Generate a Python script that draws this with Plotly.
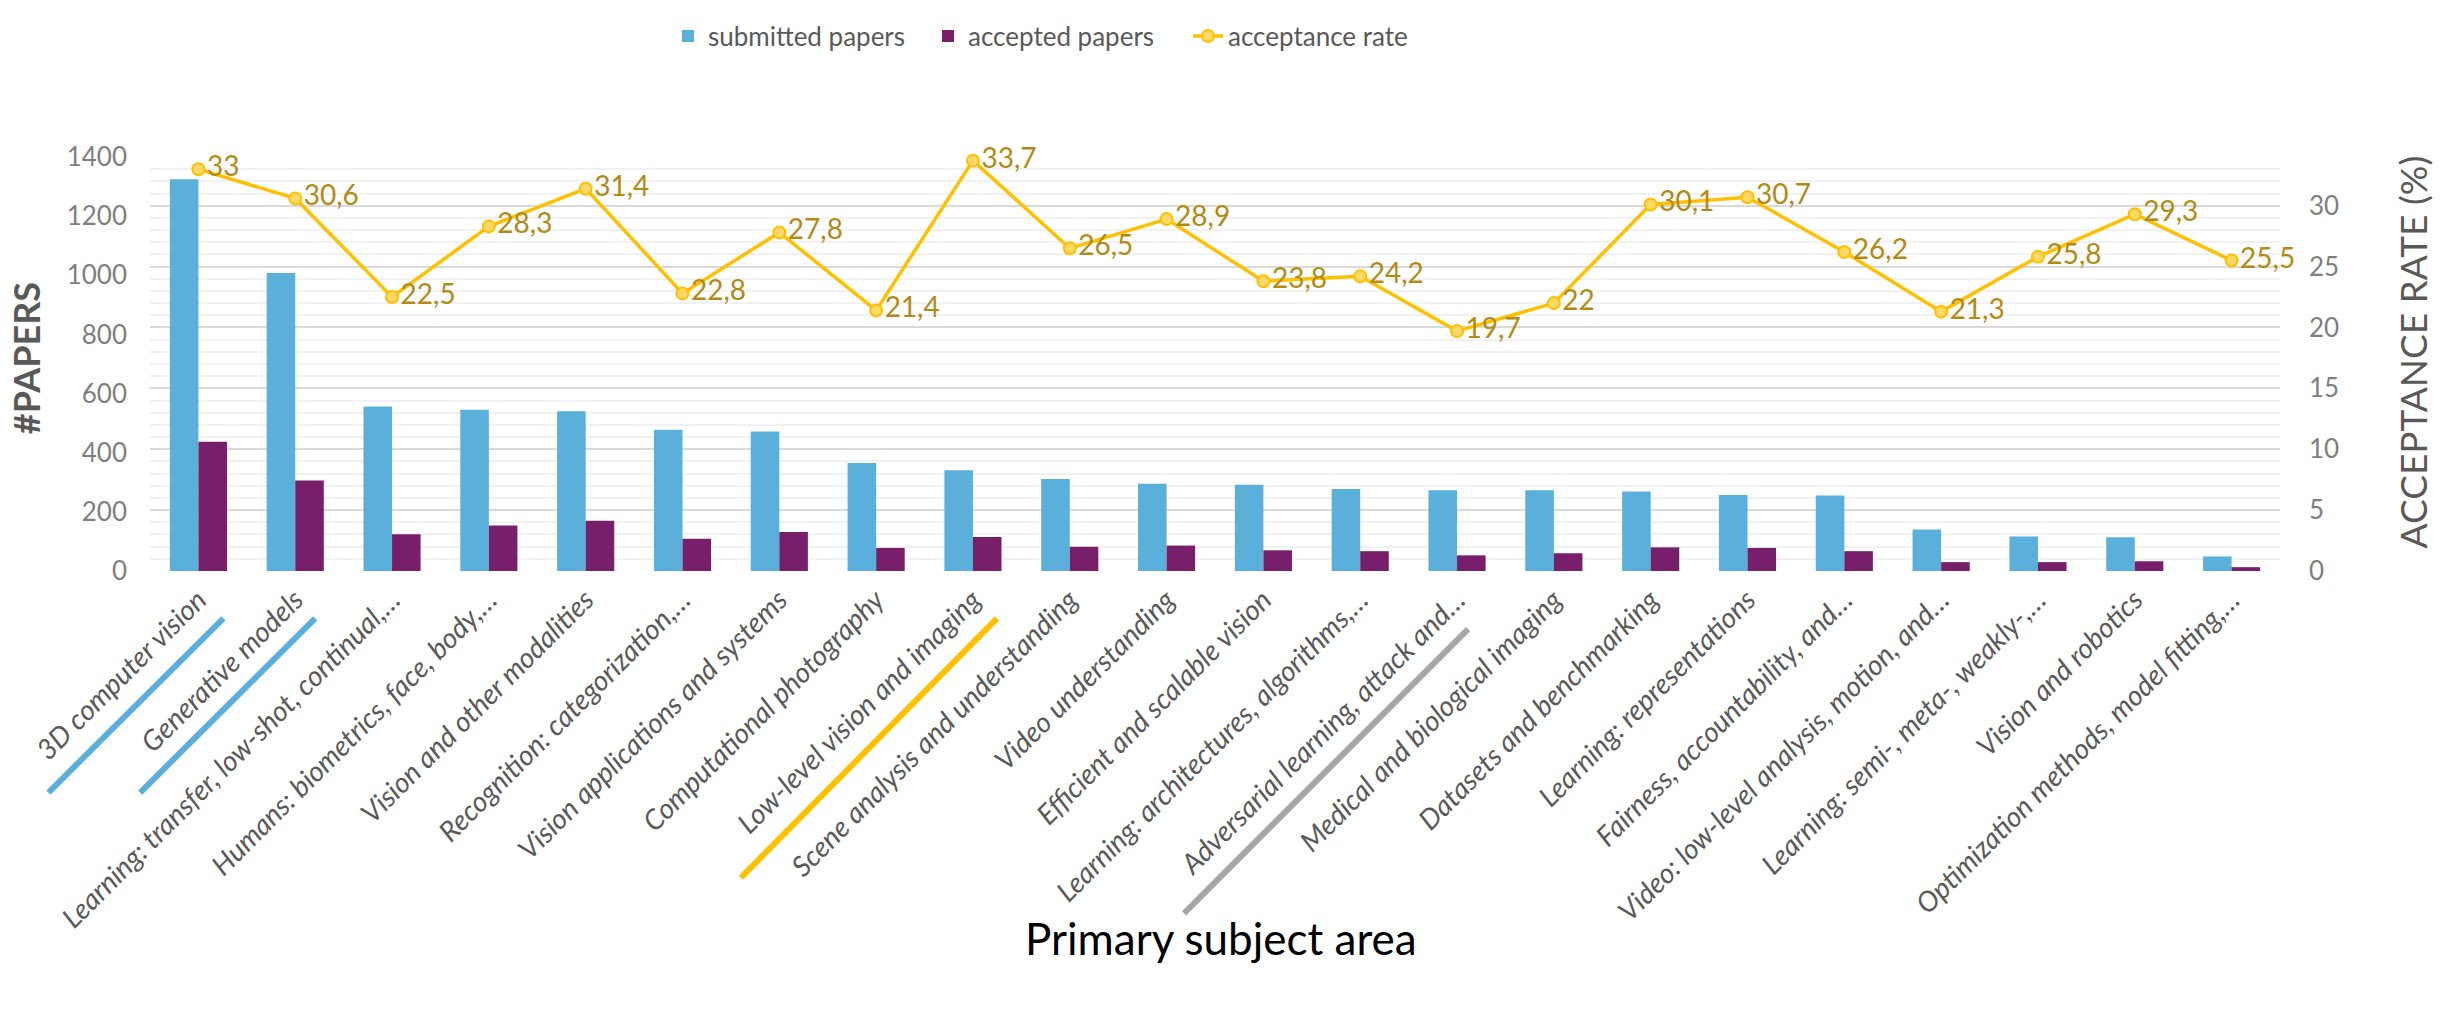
import plotly.graph_objects as go

categories = [
    "3D computer vision",
    "Generative models",
    "Learning: transfer, low-shot, continual,…",
    "Humans: biometrics, face, body,…",
    "Vision and other modalities",
    "Recognition: categorization,…",
    "Vision applications and systems",
    "Computational photography",
    "Low-level vision and imaging",
    "Scene analysis and understanding",
    "Video understanding",
    "Efficient and scalable vision",
    "Learning: architectures, algorithms,…",
    "Adversarial learning, attack and…",
    "Medical and biological imaging",
    "Datasets and benchmarking",
    "Learning: representations",
    "Fairness, accountability, and…",
    "Video: low-level analysis, motion, and…",
    "Learning: semi-, meta-, weakly-,…",
    "Vision and robotics",
    "Optimization methods, model fitting,…",
]
submitted = [1325, 1008, 556, 545, 540, 478, 472, 365, 341, 311, 295, 292,
             277, 273, 273, 269, 257, 255, 140, 117, 114, 49]
accepted = [437, 306, 124, 154, 170, 109, 132, 78, 115, 82, 86, 70,
            67, 53, 60, 80, 78, 67, 30, 30, 33, 13]
acceptance_rate = [33, 30.6, 22.5, 28.3, 31.4, 22.8, 27.8, 21.4, 33.7, 26.5, 28.9,
                   23.8, 24.2, 19.7, 22, 30.1, 30.7, 26.2, 21.3, 25.8, 29.3, 25.5]
left_ticks = [0, 200, 400, 600, 800, 1000, 1200, 1400]
right_ticks = [0, 5, 10, 15, 20, 25, 30]
highlighted = ["3D computer vision", "Generative models",
               "Low-level vision and imaging", "Adversarial learning, attack and…"]

BLUE = "#5AAFDB"
PURPLE = "#781F6B"
GOLD = "#FFC000"
GOLD_TEXT = "#B38A14"
HL_COLORS = [BLUE, BLUE, "#FFC000", "#A6A6A6"]
FONT = "Lato"

rate_text = [f"{v:g}".replace(".", ",") for v in acceptance_rate]

fig = go.Figure()
fig.add_trace(go.Bar(x=categories, y=submitted, name="submitted papers",
                     marker=dict(color=BLUE, line=dict(width=0))))
fig.add_trace(go.Bar(x=categories, y=accepted, name="accepted papers",
                     marker=dict(color=PURPLE, line=dict(width=0))))
fig.add_trace(go.Scatter(x=categories, y=acceptance_rate, yaxis="y2", name="acceptance rate",
                         mode="lines+markers+text", text=rate_text,
                         textposition="middle right",
                         textfont=dict(family=FONT, size=28, color=GOLD_TEXT),
                         line=dict(color=GOLD, width=3.5),
                         marker=dict(symbol="circle", size=12, color="#FFD966",
                                     line=dict(color=GOLD, width=2)),
                         cliponaxis=False))

# plot-area geometry (pixels)
L, R, T, B = 150, 165, 143, 447
W, H = 2445, 1018
pw = W - L - R
ph = H - T - B
n = len(categories)

# highlight underlines beneath selected labels, offsets in px from the tick
# (dx_top, dy_top, dx_bottom, dy_bottom)
hl_offsets = [(25, 49, -150, 229), (20, 49, -155, 229),
              (24, 49, -232, 317), (11, 60, -273, 354)]
shapes = []
for name, col, (dx0, dy0, dx1, dy1) in zip(highlighted, HL_COLORS, hl_offsets):
    i = categories.index(name)
    xc = (i + 0.5) / n
    shapes.append(dict(type="line", xref="paper", yref="paper",
                       x0=xc + dx0 / pw, y0=-dy0 / ph,
                       x1=xc + dx1 / pw, y1=-dy1 / ph,
                       line=dict(color=col, width=6), layer="above"))

fig.update_layout(
    width=W, height=H,
    margin=dict(l=L, r=R, t=T, b=B, pad=0),
    paper_bgcolor="white", plot_bgcolor="white",
    barmode="group", bargap=0.41, bargroupgap=0,
    font=dict(family=FONT, color="#595959"),
    showlegend=True,
    legend=dict(orientation="h", x=(668 - L) / pw, y=(571 - 18) / ph,
                xanchor="left", yanchor="middle",
                font=dict(family=FONT, size=26, color="#595959"),
                itemwidth=30, entrywidth=215, entrywidthmode="pixels",
                tracegroupgap=0, bgcolor="rgba(0,0,0,0)"),
    xaxis=dict(type="category", range=[-0.5, n - 0.5],
               tickangle=-45, showgrid=False, zeroline=False, showline=False,
               ticks="", ticklabelstandoff=6,
               tickfont=dict(family=FONT, size=28, color="#595959", style="italic")),
    yaxis=dict(range=[0, 1400], tickvals=left_ticks, showgrid=False, zeroline=False,
               showline=False, ticks="", ticklabelstandoff=22,
               tickfont=dict(family=FONT, size=26, color="#7F7F7F")),
    yaxis2=dict(overlaying="y", side="right", range=[0, 34], tickvals=right_ticks,
                showgrid=True, gridcolor="#DADADA", gridwidth=2, zeroline=False,
                showline=False, ticks="", ticklabelstandoff=28,
                tickfont=dict(family=FONT, size=26, color="#7F7F7F")
                , minor=dict(tickmode="linear", tick0=0, dtick=1, showgrid=True,
                             gridcolor="#F1F1F1", gridwidth=1.5)),
    shapes=shapes,
    annotations=[
        dict(text="<b>#PAPERS</b>", xref="paper", yref="paper",
             x=(26 - L) / pw, y=(571 - 351) / ph,
             textangle=-90, showarrow=False, xanchor="center", yanchor="middle",
             font=dict(family=FONT, size=36, color="#595959")),
        dict(text="ACCEPTANCE RATE (%)", xref="paper", yref="paper",
             x=(2412 - L) / pw, y=(571 - 345) / ph,
             textangle=-90, showarrow=False, xanchor="center", yanchor="middle",
             font=dict(family=FONT, size=37, color="#595959")),
        dict(text="Primary subject area", xref="paper", yref="paper",
             x=(1221 - L) / pw, y=(571 - 950) / ph,
             showarrow=False, xanchor="center", yanchor="middle",
             font=dict(family=FONT, size=44, color="#000000")),
    ],
)

fig.write_html("out.html", config={"displayModeBar": False},
               post_script="document.body.style.margin='0px';")
